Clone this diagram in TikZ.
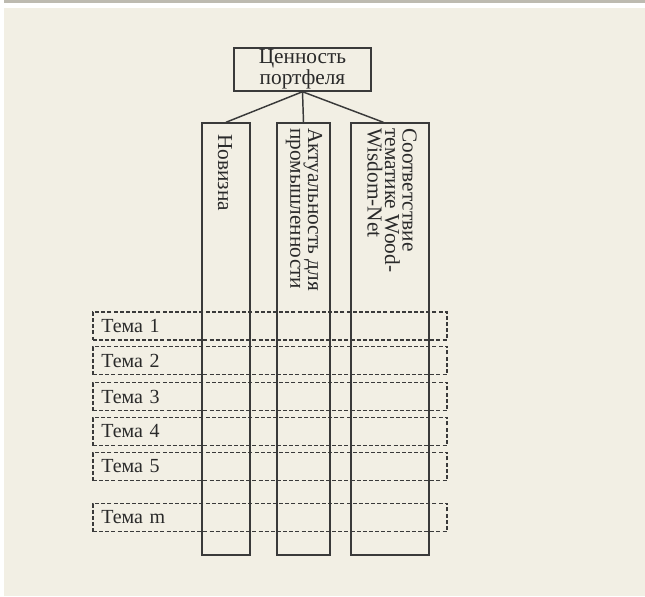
\documentclass[tikz,border=0pt]{standalone}
\usepackage{fontspec}
\setmainfont{Liberation Serif}
\definecolor{paper}{HTML}{F2EFE4}
\definecolor{rulegray}{HTML}{BDBAB0}
\definecolor{ink}{HTML}{3A3A3A}
\definecolor{inktext}{HTML}{2A2A2A}

\tikzset{
  txt/.style={font=\fontsize{16}{13.2}\selectfont, text=inktext},
  headbox/.style={txt, draw=ink, line width=1.1pt, align=center,
    minimum width=102.75pt, minimum height=32.25pt, inner sep=0pt},
  column/.style={draw=ink, line width=1.1pt, minimum height=324pt, inner sep=0pt},
  vlabel/.style={txt, rotate=-90, anchor=west, align=left, inner sep=0pt},
  topic/.style={font=\fontsize{15}{13}\selectfont, text=inktext, draw=ink, dashed,
    dash pattern=on 3pt off 1.6pt, line width=0.8pt,
    text width=253pt, align=left, minimum height=21pt, inner xsep=6.25pt, inner ysep=0pt},
  link/.style={draw=ink, line width=1.1pt}
}

\begin{document}
\begin{tikzpicture}[x=0.75pt,y=-0.75pt]
  \useasboundingbox (0,0) rectangle (645,596);
  \fill[white] (0,0) rectangle (645,596);
  \fill[rulegray] (4,0) rectangle (645,2.5);
  \fill[paper] (4,8) rectangle (645,596);

  % topic rows
  \node[topic] (t1) at (270,326) {Тема 1};
  \node[topic] (t2) at (270,360.5) {Тема 2};
  \node[topic] (t3) at (270,396.5) {Тема 3};
  \node[topic] (t4) at (270,431.5) {Тема 4};
  \node[topic] (t5) at (270,466.5) {Тема 5};
  \node[topic] (tm) at (270,517.5) {Тема m};

  % criteria columns
  \node[column, minimum width=36pt] (c1) at (226,339) {};
  \node[column, minimum width=39.75pt] (c2) at (303.5,339) {};
  \node[column, minimum width=58.5pt] (c3) at (390,339) {};

  \node[vlabel] (l1) at (225,134) {Новизна};
  \node[vlabel] (l2) at (304,128) {Актуальность для\\промышленности};
  \node[vlabel] (l3) at (392,128) {Соответствие\\тематике Wood-\\Wisdom-Net};

  % portfolio value
  \node[headbox] (top) at (302.5,69.5) {Ценность\\портфеля};

  \draw[link] (top.south) -- (c1.north);
  \draw[link] (top.south) -- (c2.north);
  \draw[link] (top.south) -- ([xshift=-5pt]c3.north);
\end{tikzpicture}
\end{document}
